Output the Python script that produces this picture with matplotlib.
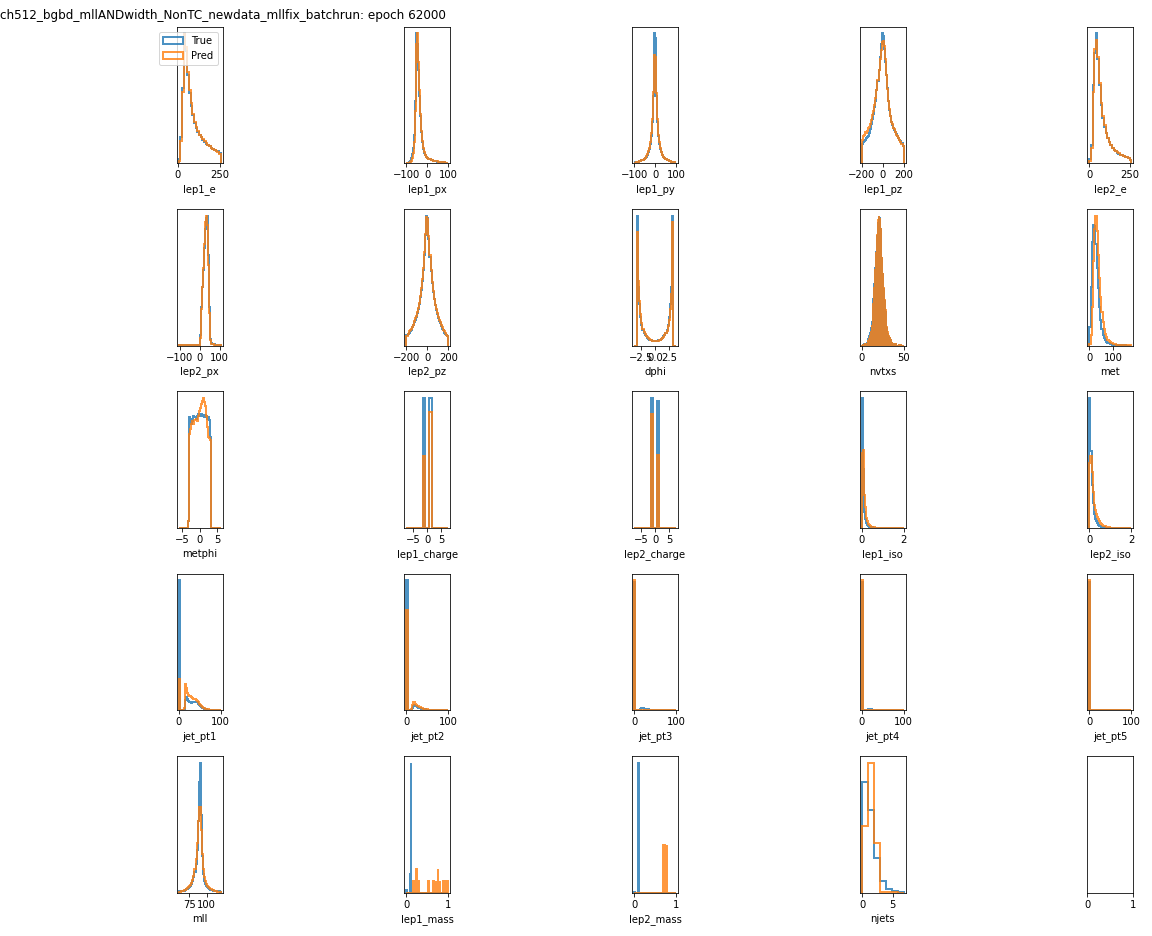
import numpy as np
import matplotlib
matplotlib.use('Agg')
import matplotlib.pyplot as plt

title = 'ch512_bgbd_mllANDwidth_NonTC_newdata_mllfix_batchrun: epoch 62000'

# bin ranges (low edge, high edge) for every variable
ranges = {
    'lep1_e': (5, 255), 'lep1_px': (-100, 100), 'lep1_py': (-100, 100),
    'lep1_pz': (-200, 200), 'lep2_e': (0, 260), 'lep2_px': (-105, 105),
    'lep2_pz': (-200, 200), 'dphi': (-3.7, 3.7), 'met': (0, 175),
    'metphi': (-6, 6), 'lep1_charge': (-7.5, 7.5), 'lep2_charge': (-7.5, 7.5),
    'lep1_iso': (0, 2), 'lep2_iso': (0, 2), 'jet_pt1': (0, 100),
    'jet_pt2': (0, 100), 'jet_pt3': (0, 100), 'jet_pt4': (0, 100),
    'jet_pt5': (0, 100), 'mll': (60, 120), 'lep1_mass': (0, 1),
    'lep2_mass': (0, 1), 'njets': (-0.1, 6.8),
}

# bin heights (True / Pred)
lep1_e_true = [3, 20, 58, 100, 86, 68, 54, 44, 37, 31, 27, 24, 22, 20, 18, 16.5, 15, 14, 13, 12, 11, 10, 9.5, 9, 7.5]
lep1_e_pred = [2, 17, 55, 99, 89, 70, 56, 46, 38, 32, 28, 25, 22, 20, 18.5, 17, 15.5, 14, 13, 12, 11, 10.5, 9.5, 8.5, 7]

lep1_px_true = [0.5, 0.5, 1, 2, 4, 7, 12, 22, 48, 100, 92, 72, 52, 36, 24, 16, 11, 8, 6, 5,
                4, 3.5, 3, 2.5, 2.2, 2, 1.8, 1.6, 1.4, 1.2, 1.1, 1, 1, 0.9, 0.8, 0.7, 0.6, 0.5, 0.4, 0.3]
lep1_px_pred = [0.3, 0.3, 0.5, 1, 2, 4, 8, 16, 40, 92, 100, 78, 56, 38, 25, 17, 12, 8.5, 6.5, 5,
                4.2, 3.6, 3.1, 2.6, 2.3, 2, 1.8, 1.6, 1.4, 1.3, 1.2, 1.1, 1, 0.9, 0.8, 0.7, 0.6, 0.5, 0.4, 0.3]

lep1_py_true = [0.5, 0.6, 0.8, 1, 1.2, 1.5, 1.8, 2.2, 2.7, 3.3, 4, 5, 6.5, 8.5, 11, 15, 21, 32, 52, 100,
                96, 52, 32, 21, 15, 11, 8.5, 6.5, 5, 4, 3.3, 2.7, 2.2, 1.8, 1.5, 1.2, 1, 0.8, 0.6, 0.5]
lep1_py_pred = [0.4, 0.5, 0.7, 0.9, 1.1, 1.4, 1.8, 2.3, 2.8, 3.4, 4.2, 5.2, 6.8, 9, 12, 16, 23, 34, 55, 83,
                82, 54, 34, 22, 16, 11.5, 8.8, 6.6, 5, 4, 3.3, 2.7, 2.2, 1.8, 1.5, 1.2, 1, 0.8, 0.6, 0.5]

lep1_pz_true = [15, 16, 17, 18, 19, 20, 21, 23, 26, 30, 34, 38, 43, 48, 56, 63, 72, 82, 92, 100,
                98, 88, 78, 68, 58, 48, 41, 36, 32, 29, 27, 25.5, 24, 22.5, 21, 19.5, 18, 17, 15.5, 13]
lep1_pz_pred = [18, 21, 22, 24, 23, 25, 27, 28, 30, 33, 37, 40, 45, 50, 56, 64, 72, 80, 87, 93,
                94, 90, 80, 68, 57, 48, 42, 36, 32, 30, 27, 26, 24, 22, 21, 19, 18, 16, 15, 13]

lep2_e_true = [3, 14, 60, 85, 100, 80, 60, 45, 35, 28, 23, 19, 16, 14, 12, 10.5, 9, 8, 7, 6.5, 6, 5.5, 5, 4.5, 4, 2.5]
lep2_e_pred = [2, 12, 55, 88, 95, 82, 62, 46, 36, 29, 23.5, 19.5, 16, 14, 12, 10.5, 9.5, 8.5, 7.5, 6.5, 6, 5.5, 5, 4.5, 4, 2.5]

lep2_px_true = [0.3, 0.3, 0.3, 0.3, 0.3, 0.3, 0.3, 0.3, 0.3, 0.3, 0.3, 0.3, 0.3, 0.3, 0.3, 0.3, 0.3, 0.3, 0.3, 0.4, 0.6,
                8, 30, 45, 58, 75, 90, 98, 100, 70, 30, 5, 2, 1.5, 1.2, 1, 0.8, 0.6, 0.5, 0.4, 0.3, 0.2]
lep2_px_pred = [0.2, 0.2, 0.2, 0.2, 0.2, 0.2, 0.2, 0.2, 0.2, 0.2, 0.2, 0.2, 0.2, 0.2, 0.2, 0.2, 0.2, 0.2, 0.2, 0.3, 0.5,
                6, 28, 45, 60, 78, 95, 100, 93, 62, 25, 4, 1.5, 1.2, 1, 0.8, 0.7, 0.5, 0.4, 0.3, 0.3, 0.2]

lep2_pz_true = [8, 9, 10, 11, 12, 14, 16, 18, 20, 22, 25, 28, 32, 37, 43, 50, 58, 70, 85, 100,
                98, 82, 68, 57, 48, 41, 36, 31, 27, 24, 21, 19, 17, 15, 13, 12, 10, 9, 8, 7]
lep2_pz_pred = [7, 9, 11, 12, 13, 14, 16, 19, 21, 23, 26, 29, 33, 38, 44, 51, 60, 72, 86, 99,
                97, 84, 70, 58, 49, 42, 36, 31, 28, 25, 22, 20, 18, 16, 14, 12, 11, 10, 8, 7]

dphi_true = [0, 0, 0, 100, 45, 32, 22, 16, 12, 10, 8.5, 7, 6, 5.2, 4.6, 4.2, 3.9, 3.7, 3.6, 3.5,
             3.5, 3.6, 3.7, 3.9, 4.2, 4.6, 5.2, 6, 7, 8.5, 10, 12, 16, 22, 32, 45, 100, 0, 0, 0]
dphi_pred = [0, 0, 0, 87, 50, 34, 24, 17, 13, 10.5, 9, 7.5, 6.3, 5.5, 4.8, 4.3, 4, 3.8, 3.6, 3.5,
             3.4, 3.5, 3.6, 3.8, 4.1, 4.5, 5, 5.8, 6.8, 8, 9.5, 11.5, 15, 20, 28, 40, 95, 0, 0, 0]

# nvtxs is an integer count, one value per number of vertices
nvtxs_n = np.arange(0, 50)
nvtxs_true = [0.3, 0.5, 0.8, 1, 1.5, 2, 3, 4, 5, 7, 10, 14, 19, 27, 36, 47, 60, 73, 85, 95,
              100, 98, 90, 80, 68, 56, 44, 34, 26, 19, 14, 10, 7.5, 5.5, 4, 3, 2.5, 2, 1.5, 1.2,
              1, 0.8, 0.6, 0.5, 0.4, 0.3, 0.3, 0.2, 0.2, 0.1]
nvtxs_pred = [0.2, 0.3, 0.5, 0.7, 1, 1.4, 2, 2.8, 3.8, 5.2, 7.5, 11, 16, 23, 32, 44, 58, 72, 86, 97,
              100, 97, 90, 80, 68, 56, 45, 35, 27, 20, 15, 11, 8, 6, 4.5, 3.4, 2.6, 2, 1.6, 1.3,
              1, 0.8, 0.7, 0.6, 0.5, 0.4, 0.3, 0.3, 0.2, 0.2]

met_true = [14, 45, 80, 93, 92, 78, 60, 44, 30, 20, 13, 8, 5.5, 4, 3, 2.2, 1.6, 1.2, 1, 0.8,
            0.6, 0.5, 0.4, 0.3, 0.25, 0.2, 0.15, 0.1, 0.1, 0.05, 0.05, 0, 0, 0, 0]
met_pred = [1, 8, 30, 65, 90, 100, 88, 70, 52, 37, 26, 18, 13, 9, 6.5, 4.5, 3.3, 2.5, 2, 1.6,
            1.3, 1, 0.8, 0.6, 0.5, 0.4, 0.3, 0.3, 0.2, 0.2, 0.15, 0.1, 0.1, 0.1, 0.05]

metphi_true = [0, 0, 0, 0, 0, 0, 0, 0, 0, 5,
               85, 84, 80, 82, 86, 85, 84, 86, 88, 87, 86, 88, 87, 86, 85, 87, 86, 84, 85, 83,
               70, 0, 0, 0, 0, 0, 0, 0, 0, 0]
metphi_pred = [0, 0, 0, 0, 0, 0, 0, 0, 0, 5,
               72, 76, 80, 82, 80, 83, 84, 82, 86, 90, 92, 95, 98, 100, 97, 94, 86, 78, 70, 69,
               68, 0, 0, 0, 0, 0, 0, 0, 0, 0]

lep1_charge_true = [0, 0, 0, 0, 0, 0, 0, 0, 100, 0, 0, 100, 0, 0, 0, 0, 0, 0, 0, 0]
lep1_charge_pred = [0, 0, 0, 0, 0, 0, 0, 0, 55, 0, 0, 89, 0, 0, 0, 0, 0, 0, 0, 0]
lep2_charge_true = [0, 0, 0, 0, 0, 0, 0, 0, 100, 0, 0, 98, 0, 0, 0, 0, 0, 0, 0, 0]
lep2_charge_pred = [0, 0, 0, 0, 0, 0, 0, 0, 88, 0, 0, 56, 0, 0, 0, 0, 0, 0, 0, 0]

lep1_iso_true = [100, 45, 12, 7, 4, 2.5, 1.5, 1, 0.7, 0.5, 0.35, 0.25, 0.2, 0.15, 0.1, 0.1, 0.08, 0.06, 0.05, 0.04,
                 0.03, 0.03, 0.02, 0.02, 0.02, 0.01, 0.01, 0.01, 0.01, 0.01, 0, 0, 0, 0, 0, 0, 0, 0, 0, 0]
lep1_iso_pred = [58, 60, 25, 16, 8, 5, 3, 2, 1.5, 1, 0.7, 0.5, 0.4, 0.3, 0.3, 0.2, 0.2, 0.15, 0.15, 0.1,
                 0.1, 0.1, 0.1, 0.1, 0.1, 0.1, 0.1, 0.1, 0.1, 0.1, 0.1, 0.1, 0.1, 0.1, 0.1, 0.1, 0.1, 0.1, 0.1, 0.1]
lep2_iso_true = [100, 59, 33, 19, 11, 7, 5, 3.5, 2.5, 1.8, 1.3, 1, 0.7, 0.5, 0.4, 0.3, 0.2, 0.15, 0.1, 0.1,
                 0.08, 0.06, 0.05, 0.04, 0.03, 0.02, 0.02, 0.01, 0.01, 0.01, 0, 0, 0, 0, 0, 0, 0, 0, 0, 0]
lep2_iso_pred = [50, 55, 43, 28, 18, 14, 11, 8.5, 6.5, 5, 3.8, 3, 2.3, 1.8, 1.4, 1.1, 0.8, 0.6, 0.5, 0.4,
                 0.3, 0.25, 0.2, 0.2, 0.15, 0.15, 0.1, 0.1, 0.1, 0.1, 0.1, 0.1, 0.1, 0.1, 0.1, 0.1, 0.1, 0.1, 0.1, 0.1]

jet_pt1_true = [100, 0, 0, 0, 0, 0.5, 8, 10, 9, 7, 6, 6, 5.5, 6, 6.5, 6.5, 6.5, 6, 5, 4,
                3, 2.3, 1.8, 1.4, 1.1, 0.9, 0.7, 0.6, 0.5, 0.4, 0.35, 0.3, 0.25, 0.2, 0.2, 0.15, 0.15, 0.1, 0.1, 0.1]
jet_pt1_pred = [24, 0, 0, 0, 0.5, 2, 20, 17, 13, 12, 11, 11, 10, 9.5, 9, 8.5, 8, 7, 6, 5,
                4, 3, 2.5, 2, 1.6, 1.3, 1, 0.8, 0.7, 0.6, 0.5, 0.45, 0.4, 0.35, 0.3, 0.3, 0.25, 0.2, 0.2, 0.2]
jet_pt2_true = [100, 0, 0, 0, 0.5, 2, 3.5, 4, 3.5, 3, 2.5, 2, 1.7, 1.5, 1.3, 1.1, 0.9, 0.8, 0.7, 0.6,
                0.5, 0.4, 0.35, 0.3, 0.25, 0.2, 0.2, 0.15, 0.15, 0.1, 0.1, 0.1, 0.05, 0.05, 0.05, 0, 0, 0, 0, 0]
jet_pt2_pred = [77, 0, 0, 0, 1, 4, 6.5, 6, 5, 4.2, 3.5, 3, 2.6, 2.2, 1.9, 1.6, 1.3, 1.1, 0.9, 0.8,
                0.7, 0.6, 0.5, 0.4, 0.3, 0.25, 0.2, 0.2, 0.15, 0.15, 0.1, 0.1, 0.1, 0.1, 0.05, 0.05, 0.05, 0.05, 0.05, 0.05]
jet_pt3_true = [99, 0, 0, 0, 0, 0.3, 1, 1.5, 1.5, 1.3, 1.2, 1.2, 1, 0.8, 0.5, 0.3, 0.2, 0.1, 0.1, 0.05,
                0.05, 0.05, 0, 0, 0, 0, 0, 0, 0, 0, 0, 0, 0, 0, 0, 0, 0, 0, 0, 0]
jet_pt3_pred = [100, 0, 0, 0, 0, 0.1, 0.2, 0.2, 0.2, 0.15, 0.15, 0.1, 0.1, 0.1, 0.1, 0.1, 0.05, 0.05, 0.05, 0.05,
                0.05, 0.05, 0.05, 0.05, 0.05, 0.05, 0.05, 0.05, 0.05, 0.05, 0.05, 0.05, 0.05, 0.05, 0.05, 0.05, 0.05, 0.05, 0.05, 0.05]
jet_pt4_true = [99, 0, 0, 0, 0, 0.3, 1.2, 1.2, 1, 0.8, 0.5, 0.3, 0.2, 0.1, 0.1, 0.05, 0, 0, 0, 0,
                0, 0, 0, 0, 0, 0, 0, 0, 0, 0, 0, 0, 0, 0, 0, 0, 0, 0, 0, 0]
jet_pt4_pred = [100, 0, 0, 0, 0, 0.05, 0.1, 0.1, 0.1, 0.1, 0.1, 0.05, 0.05, 0.05, 0.05, 0.05, 0.05, 0.05, 0.05, 0.05,
                0.05, 0.05, 0.05, 0.05, 0.05, 0.05, 0.05, 0.05, 0.05, 0.05, 0.05, 0.05, 0.05, 0.05, 0.05, 0.05, 0.05, 0.05, 0.05, 0.05]
jet_pt5_true = [99, 0, 0, 0, 0, 0.1, 0.3, 0.3, 0.2, 0.1, 0.1, 0.05, 0, 0, 0, 0, 0, 0, 0, 0,
                0, 0, 0, 0, 0, 0, 0, 0, 0, 0, 0, 0, 0, 0, 0, 0, 0, 0, 0, 0]
jet_pt5_pred = [100, 0, 0, 0, 0, 0.05, 0.05, 0.05, 0.05, 0.05, 0.05, 0.05, 0.05, 0.05, 0.05, 0.05, 0.05, 0.05, 0.05, 0.05,
                0.05, 0.05, 0.05, 0.05, 0.05, 0.05, 0.05, 0.05, 0.05, 0.05, 0.05, 0.05, 0.05, 0.05, 0.05, 0.05, 0.05, 0.05, 0.05, 0.05]

mll_true = [1.5, 1.5, 1.5, 1.5, 1.5, 1.5, 2, 2.5, 3, 3.5, 4.5, 5.5, 7, 9, 12, 16, 22, 33, 55, 85,
            100, 60, 28, 14, 9, 6.5, 5, 4, 3.3, 2.8, 2.4, 2.1, 1.8, 1.6, 1.4, 1.2, 1.1, 1, 0.9, 0.8]
mll_pred = [0.5, 0.8, 1, 1.3, 1.6, 2, 2.4, 2.8, 3.3, 4, 5, 6, 7.5, 9.5, 13, 18, 26, 38, 55, 66,
            66, 48, 30, 18, 12, 9, 7, 5.5, 4.5, 3.7, 3, 2.5, 2.1, 1.7, 1.4, 1.1, 0.9, 0.7, 0.5, 0.4]

# lepton masses: 100 narrow bins, the predictions are a few scattered counts
lep1_mass_true = [0.25, 0, 0, 0, 0, 0, 0, 0, 0, 1.6, 11.2, 0, 0, 0, 0, 0, 0, 0, 0, 0,
                  0, 0, 0, 0, 0, 0, 0, 0, 0, 0, 0, 0, 0, 0, 0, 0, 0, 0, 0, 0,
                  0, 0, 0, 0, 0, 0, 0, 0, 0, 0, 0, 0, 0, 0, 0, 0, 0, 0, 0, 0,
                  0, 0, 0, 0, 0, 0, 0, 0, 0, 0, 0, 0, 0, 0, 0, 0, 0, 0, 0, 0,
                  0, 0, 0, 0, 0, 0, 0, 0, 0, 0, 0, 0, 0, 0, 0, 0, 0, 0, 0, 0]
lep1_mass_pred = [0, 0, 0, 0, 0, 0, 0, 0, 0, 0, 0, 0, 0, 0, 0, 0, 1, 0, 1, 0,
                  1, 0, 2, 0, 2, 0, 1, 0, 1, 0, 0, 0, 0, 0, 0, 0, 0, 0, 0, 0,
                  0, 0, 0, 0, 0, 0, 0, 0, 0, 0, 0, 0, 1, 0, 1, 0, 0, 0, 0, 0,
                  0, 0, 0, 0, 1, 0, 1, 0, 1, 0, 1, 0, 0, 0, 0, 2, 0, 0, 1, 0,
                  1, 0, 0, 0, 0, 0, 0, 0, 1, 0, 1, 0, 0, 0, 0, 0, 1, 0, 1, 0]
lep2_mass_true = [0.3, 0, 0, 0, 0, 0, 0, 0, 0, 0, 100, 6, 0, 0, 0, 0, 0, 0, 0, 0,
                  0, 0, 0, 0, 0, 0, 0, 0, 0, 0, 0, 0, 0, 0, 0, 0, 0, 0, 0, 0,
                  0, 0, 0, 0, 0, 0, 0, 0, 0, 0, 0, 0, 0, 0, 0, 0, 0, 0, 0, 0,
                  0, 0, 0, 0, 0, 0, 0, 0, 0, 0, 0, 0, 0, 0, 0, 0, 0, 0, 0, 0,
                  0, 0, 0, 0, 0, 0, 0, 0, 0, 0, 0, 0, 0, 0, 0, 0, 0, 0, 0, 0]
lep2_mass_pred = [0, 0, 0, 0, 0, 0, 0, 0, 0, 0, 0, 0, 0, 0, 0, 0, 0, 0, 0, 0,
                  0, 0, 0, 0, 0, 0, 0, 0, 0, 0, 0, 0, 0, 0, 0, 0, 0, 0, 0, 0,
                  0, 0, 0, 0, 0, 0, 0, 0, 0, 0, 0, 0, 0, 0, 0, 0, 0, 0, 0, 0,
                  0, 0, 0, 0, 0, 0, 0, 0, 37, 0, 37, 0, 37, 0, 37, 0, 37, 0, 37, 0,
                  0, 0, 0, 0, 0, 0, 0, 0, 0, 0, 0, 0, 0, 0, 0, 0, 0, 0, 0, 0]

njets_true = [85, 63.5, 27, 9.2, 2.6, 1, 0.3]
njets_pred = [51, 100, 38.5, 0.5, 0.3, 0.2, 0.1]

order = ['lep1_e', 'lep1_px', 'lep1_py', 'lep1_pz', 'lep2_e',
         'lep2_px', 'lep2_pz', 'dphi', 'nvtxs', 'met',
         'metphi', 'lep1_charge', 'lep2_charge', 'lep1_iso', 'lep2_iso',
         'jet_pt1', 'jet_pt2', 'jet_pt3', 'jet_pt4', 'jet_pt5',
         'mll', 'lep1_mass', 'lep2_mass', 'njets']

data = {k: (globals()[k + '_true'], globals()[k + '_pred']) for k in order}

fig, axes = plt.subplots(5, 5, figsize=(16, 13), dpi=72)
plt.subplots_adjust(left=0.1534, right=0.9838, bottom=0.0463, top=0.9715,
                    wspace=3.95, hspace=0.336)

for ax, name in zip(axes.flat, order):
    t, p = data[name]
    if name == 'nvtxs':
        x = nvtxs_n
        edges = np.arange(-0.25, 50, 0.5)
    else:
        lo, hi = ranges[name]
        edges = np.linspace(lo, hi, len(t) + 1)
        x = (edges[:-1] + edges[1:]) / 2
    ax.hist(x, bins=edges, weights=t, histtype='step', lw=2, alpha=0.8, label='True')
    ax.hist(x, bins=edges, weights=p, histtype='step', lw=2, alpha=0.8, label='Pred')
    ax.set_xlabel(name)
    ax.set_yticks([])

axes[4, 4].set_yticks([])
axes[0, 0].legend(loc='upper right')
fig.text(0.0, 0.983, title, fontsize=12, va='center', ha='left')

fig.savefig('out.png', dpi=72)
